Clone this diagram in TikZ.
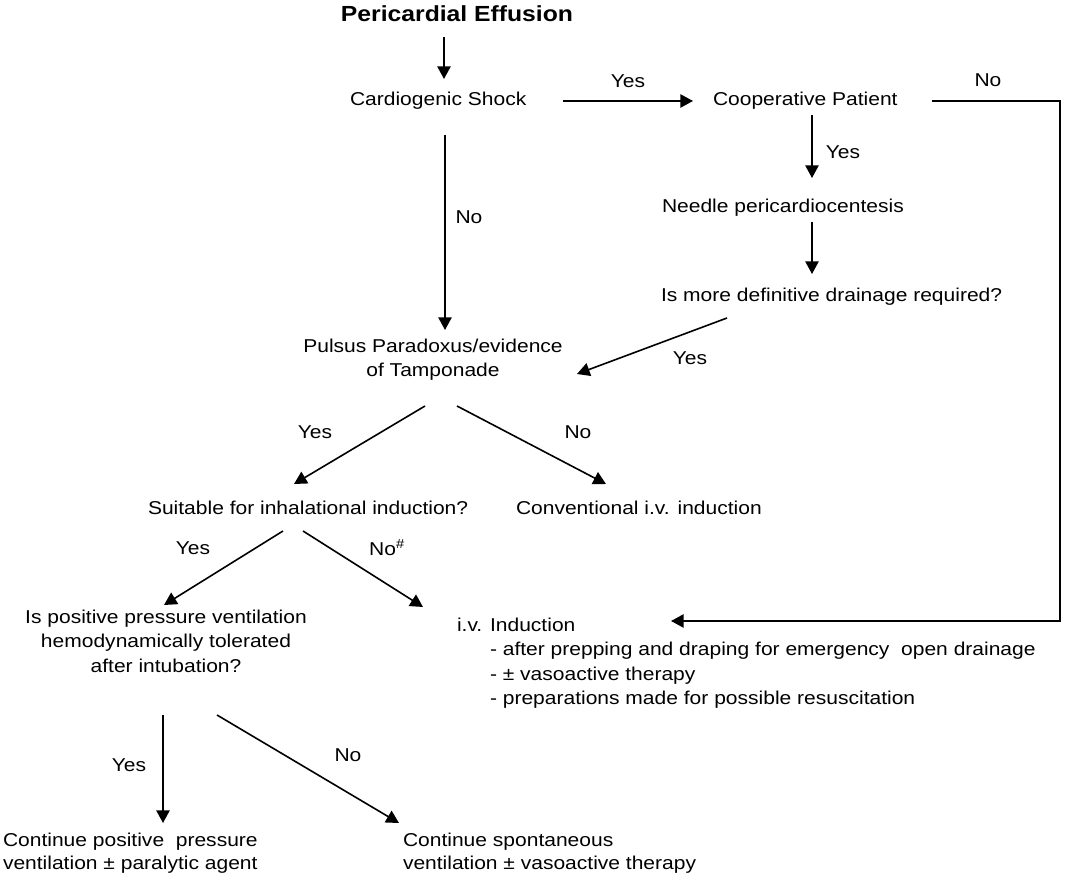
\documentclass[tikz,border=0pt]{standalone}
\usepackage{fontspec}
\setmainfont[FakeStretch=1.13]{Liberation Sans}
\usetikzlibrary{arrows.meta}
\begin{document}
\begin{tikzpicture}[x=0.75pt,y=-0.75pt,
  every node/.style={inner sep=0pt,outer sep=0pt,font=\fontsize{13.95}{18.4}\selectfont},
  txt/.style={anchor=base west},
  multi/.style={anchor=north,align=center},
  lbl/.style={anchor=center},
  arr/.style={line width=1.2pt,-{Triangle[length=9.5pt,width=10pt]}},
  ln/.style={line width=1.2pt}]
\useasboundingbox[fill=white] (0,0) rectangle (1072,891);

% nodes
\node[anchor=base,font=\bfseries\fontsize{16.4}{20}\selectfont] (title) at (457,22) {Pericardial Effusion};
\node[txt] (shock) at (350,106) {Cardiogenic Shock};
\node[txt] (coop) at (713,106) {Cooperative Patient};
\node[txt] (needle) at (662,213) {Needle pericardiocentesis};
\node[txt] (drain) at (661,302) {Is more definitive drainage required?};
\node[multi,font=\fontsize{13.95}{18}\selectfont] (pulsus) at (433,339) {Pulsus Paradoxus/evidence\\of Tamponade};
\node[txt] (suit) at (148,514) {Suitable for inhalational induction?};
\node[txt] (conv) at (516,514) {Conventional i.v. induction};
\node[multi] (ppv) at (166,609.7) {Is positive pressure ventilation\\hemodynamically tolerated\\after intubation?};
\node[anchor=north west,align=left] (iv) at (457,617.7) {i.v. Induction\\
  \hspace*{24.75pt}- after prepping and draping for emergency\ \ open drainage\\
  \hspace*{24.75pt}- ± vasoactive therapy\\
  \hspace*{24.75pt}- preparations made for possible resuscitation};
\node[anchor=north west,align=left,font=\fontsize{13.95}{17}\selectfont] (cont1) at (3,833) {Continue positive\ \ pressure\\ventilation ± paralytic agent};
\node[anchor=north west,align=left,font=\fontsize{13.95}{17}\selectfont] (cont2) at (403,833) {Continue spontaneous\\ventilation ± vasoactive therapy};

% labels
\node[lbl] (l1) at (628,81) {Yes};
\node[lbl] (l2) at (988,80) {No};
\node[lbl] (l3) at (843,152) {Yes};
\node[lbl] (l4) at (469,217) {No};
\node[lbl] (l5) at (690,358) {Yes};
\node[lbl] (l6) at (315,432) {Yes};
\node[lbl] (l7) at (578,432) {No};
\node[lbl] (l8) at (193,548) {Yes};
\node[lbl] (l9) at (387,548) {No\textsuperscript{\#}};
\node[lbl] (l10) at (129,765) {Yes};
\node[lbl] (l11) at (348,755) {No};

% connector end points
\coordinate (a1) at (444,37);   \coordinate (b1) at (444,79);
\coordinate (a2) at (563,101);  \coordinate (b2) at (693,101);
\coordinate (a3) at (812,115);  \coordinate (b3) at (812,178);
\coordinate (a4) at (812,222);  \coordinate (b4) at (812,274);
\coordinate (a5) at (727,318);  \coordinate (b5) at (577,374);
\coordinate (a6) at (445,135);  \coordinate (b6) at (445,330);
\coordinate (a7) at (425,406);  \coordinate (b7) at (294,484);
\coordinate (a8) at (457,406);  \coordinate (b8) at (606,484);
\coordinate (a9) at (283,531);  \coordinate (b9) at (164,605);
\coordinate (a10) at (303,531); \coordinate (b10) at (423,607);
\coordinate (a11) at (163,715); \coordinate (b11) at (163,823);
\coordinate (a12) at (217,715); \coordinate (b12) at (399,823);
\coordinate (a13) at (932,101); \coordinate (c13) at (1060,621); \coordinate (b13) at (671,621);

% connectors
\draw[arr] (a1) -- (b1);
\draw[arr] (a2) -- (b2);
\draw[arr] (a3) -- (b3);
\draw[arr] (a4) -- (b4);
\draw[arr] (a5) -- (b5);
\draw[arr] (a6) -- (b6);
\draw[arr] (a7) -- (b7);
\draw[arr] (a8) -- (b8);
\draw[arr] (a9) -- (b9);
\draw[arr] (a10) -- (b10);
\draw[arr] (a11) -- (b11);
\draw[arr] (a12) -- (b12);
\draw[arr,line join=miter] (a13) -| (c13) -- (b13);
\end{tikzpicture}
\end{document}
